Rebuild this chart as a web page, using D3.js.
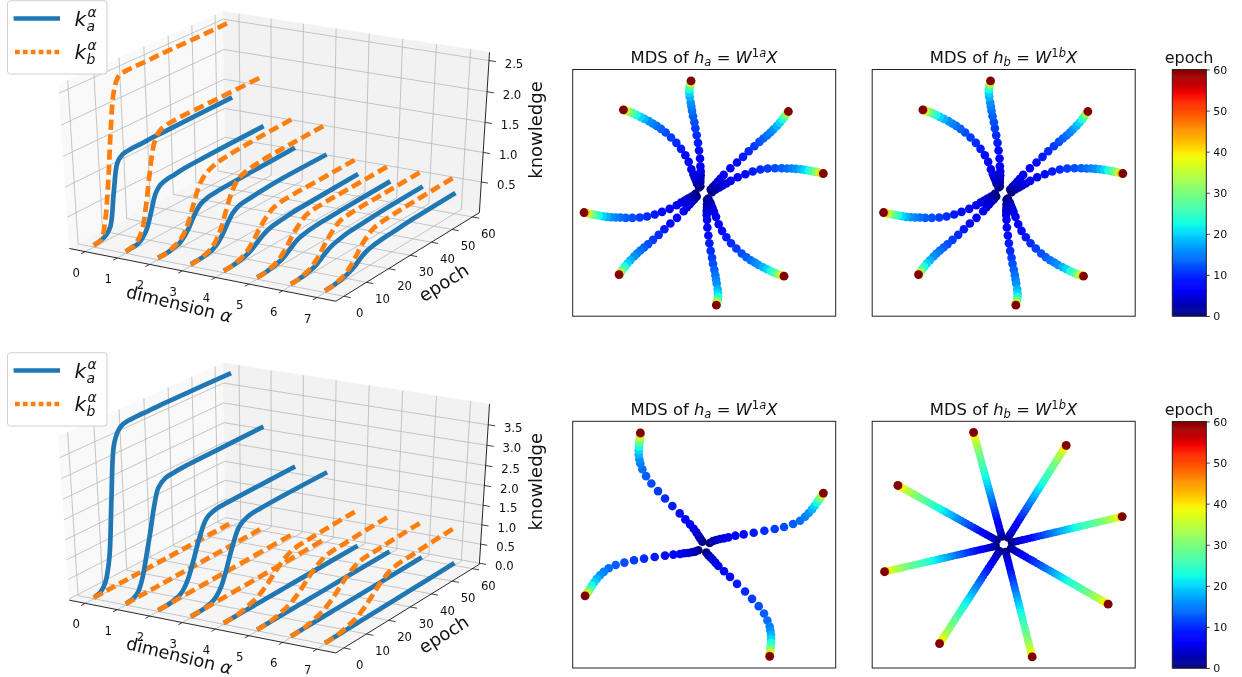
<!DOCTYPE html>
<html><head><meta charset="utf-8">
<script src="https://cdnjs.cloudflare.com/ajax/libs/d3/7.8.5/d3.min.js"></script>
<style>html,body{margin:0;padding:0;background:#fff}svg{display:block;filter:blur(0.35px)}text{font-family:"DejaVu Sans";fill:#111}</style>
</head><body><svg id="c" width="1242" height="677"></svg>
<script>
// ---------- knowledge curves (value at each sampled epoch, one row per dimension) ----------
const epochSamples=[0,3,5,7,9,11,13,15,18,21,25,30,40,60];
const dimensions=[0,1,2,3,4,5,6,7];
const topKa=[
[0,.02,.06,.17,.7,1.15,1.24,1.26,1.27,1.27,1.28,1.28,1.29,1.3],
[0,.01,.02,.08,.2,.45,.7,.8,.84,.85,.87,.88,.89,.9],
[0,0,.01,.03,.05,.12,.22,.36,.51,.56,.58,.59,.6,.62],
[0,0,.01,.02,.04,.09,.18,.3,.47,.54,.56,.58,.6,.6],
[0,0,.01,.02,.04,.07,.12,.18,.25,.29,.31,.33,.34,.36],
[0,0,.01,.02,.04,.07,.12,.18,.25,.28,.3,.31,.32,.33],
[0,0,.01,.02,.04,.07,.12,.18,.24,.27,.3,.31,.33,.34],
[0,0,.01,.02,.04,.07,.11,.17,.24,.27,.29,.3,.32,.33]];
const topKb=[
[0,.03,.3,.9,1.7,2.3,2.5,2.53,2.54,2.54,2.54,2.55,2.55,2.56],
[0,.02,.08,.22,.6,1.1,1.5,1.66,1.72,1.73,1.74,1.74,1.74,1.75],
[0,0,.02,.05,.09,.18,.33,.55,.85,.98,1.05,1.08,1.11,1.14],
[0,0,.02,.04,.09,.18,.33,.55,.85,1.0,1.05,1.08,1.1,1.12],
[0,0,.02,.04,.08,.15,.24,.35,.49,.58,.62,.63,.63,.64],
[0,0,.02,.04,.08,.15,.24,.35,.48,.57,.6,.61,.61,.62],
[0,0,.02,.04,.08,.15,.24,.35,.48,.57,.6,.61,.61,.62],
[0,0,.02,.04,.08,.15,.24,.35,.48,.56,.59,.6,.61,.62]];
const botKa=[
[0,.06,.25,.8,2.2,3.45,3.75,3.85,3.88,3.89,3.89,3.9,3.9,3.9],
[0,.03,.12,.4,.9,1.45,2.05,2.45,2.6,2.63,2.65,2.66,2.67,2.69],
[0,0,.01,.04,.08,.2,.42,.75,1.28,1.65,1.76,1.78,1.79,1.81],
[0,0,.01,.03,.07,.16,.34,.65,1.2,1.6,1.74,1.77,1.79,1.8],
[0,.002,.003,.004,.005,.006,.007,.008,.01,.011,.013,.016,.021,.03],
[0,.002,.003,.004,.005,.006,.007,.008,.01,.011,.013,.016,.021,.03],
[0,.002,.003,.004,.005,.006,.007,.008,.01,.011,.013,.016,.021,.03],
[0,.002,.003,.004,.005,.006,.007,.008,.01,.011,.013,.016,.021,.03]];
const botKb=[
[0,.003,.006,.008,.011,.013,.015,.018,.021,.025,.029,.035,.047,.07],
[0,.003,.006,.008,.011,.013,.015,.018,.021,.025,.029,.035,.047,.07],
[0,.003,.006,.008,.011,.013,.015,.018,.021,.025,.029,.035,.047,.07],
[0,.003,.006,.008,.011,.013,.015,.018,.021,.025,.029,.035,.047,.07],
[0,0,.01,.03,.06,.1,.14,.2,.33,.5,.72,.88,.93,.98],
[0,0,.01,.03,.06,.1,.14,.2,.33,.5,.72,.88,.93,.98],
[0,0,.01,.03,.06,.1,.14,.2,.33,.5,.72,.88,.93,.98],
[0,0,.01,.03,.06,.1,.14,.2,.33,.5,.72,.88,.93,.98]];
const xTicks=[0,1,2,3,4,5,6,7];
const yTicks=[0,10,20,30,40,50,60];
const zTicksTop=[0.5,1.0,1.5,2.0,2.5];
const zTicksBot=[0.0,0.5,1.0,1.5,2.0,2.5,3.0,3.5];

// ---------- MDS trajectories: [x, y] at each sampled epoch ----------
const mdsEpochs=[0,2,3,4,5,6,7,8,9,10,11,12,13,14,15,16,18,20,23,26,30,35,42,60];
const topArmN=[[406,438],[406,425],[406,415],[407,405],[407,393],[406,378],[405,355],[402,331],[399,308],[395,285],[391,264],[388,246],[384,228],[381,212],[379,199],[377,187],[374,170],[373,158],[373,147],[374,139],[376,133],[378,128],[378,124],[378,122]];
const topArmNW=[[402,442],[396,430],[393,421],[389,412],[385,402],[379,387],[371,365],[361,345],[348,326],[334,308],[318,292],[302,277],[288,266],[275,257],[263,250],[252,243],[238,236],[226,230],[214,224],[203,219],[193,215],[184,212],[178,210],[175,209]];
const topArmNE=[[437,448],[444,440],[451,433],[458,425],[466,416],[476,404],[496,384],[516,367],[534,350],[551,333],[568,318],[583,305],[595,295],[606,286],[616,277],[625,268],[636,257],[645,247],[653,237],[659,229],[664,222],[667,218],[669,215],[670,214]];
const topArmE=[[441,456],[452,448],[463,442],[473,436],[484,430],[497,422],[518,411],[541,402],[563,394],[586,388],[608,385],[630,384],[650,384],[666,385],[680,385],[693,386],[707,387],[719,389],[731,391],[742,393],[752,395],[762,397],[770,399],[775,400]];
const topMirrorCentre=[416,458.5];
const botArmNW=[[412,440],[406,431],[401,423],[394,412],[386,401],[375,388],[361,373],[344,355],[322,333],[300,310],[279,288],[259,265],[243,243],[232,222],[226,205],[223,192],[221,178],[221,166],[222,154],[223,143],[224,133],[225,124],[226,117],[226,113]];
const botArmE=[[434,444],[444,438],[454,435],[465,432],[477,430],[490,427],[511,422],[536,418],[566,413],[598,407],[629,402],[657,396],[684,387],[705,377],[720,365],[731,354],[741,343],[749,332],[756,322],[762,313],[767,306],[771,300],[774,296],[775,294]];
const botArmSE=[[424,473],[430,481],[436,487],[443,494],[451,503],[460,513],[477,529],[495,546],[516,567],[540,590],[561,612],[581,634],[597,656],[607,677],[614,695],[616,708],[618,720],[618,732],[618,744],[617,755],[616,765],[615,774],[614,781],[614,785]];
const botArmW=[[400,466],[390,470],[380,472],[369,474],[357,475],[345,477],[325,479],[300,482],[269,486],[237,491],[207,496],[178,503],[152,510],[131,520],[116,531],[105,541],[95,552],[87,563],[80,573],[74,583],[69,591],[65,597],[62,601],[60,603]];
// straight arms of the last panel: tips, and distance travelled along the arm per epoch
const rayCentre=[418,463];
const rayTips=[[327,128],[605,167],[773,380],[731,642],[503,800],[225,760],[60,545],[100,287]];
const rayEpochs=[0,1,2,3,4,5,6,7,8,9,10,11,12,13,14,15,16,17,18,19,20,21,22,23,24,25,26,27,28,29,30,31,32,33,34,35,36,37,38,39,40,41,42,43,44,60];
const rayTravel=[.065,.08,.095,.115,.135,.16,.185,.21,.24,.265,.29,.32,.35,.375,.4,.43,.455,.48,.505,.53,.555,.58,.605,.63,.66,.69,.72,.75,.78,.81,.84,.86,.88,.9,.92,.94,.955,.965,.975,.98,.985,.99,.992,.995,.997,1];
const cbTicks=[0,10,20,30,40,50,60];

// ---------- helpers ----------
const svg=d3.select("#c");
const blue="#1f77b4",orange="#ff7f0e",darkRed="#7f0000";
const jetR=d3.scaleLinear().domain([0,.35,.66,.89,1]).range([0,0,1,1,.5]);
const jetG=d3.scaleLinear().domain([0,.125,.375,.64,.91,1]).range([0,0,1,1,0,0]);
const jetB=d3.scaleLinear().domain([0,.11,.34,.65,1]).range([.5,1,1,0,0]);
const jet=t=>`rgb(${Math.round(jetR(t)*255)},${Math.round(jetG(t)*255)},${Math.round(jetB(t)*255)})`;
const epochColor=d3.scaleLinear().domain([0,60]).range([0,1]);

// matplotlib-style view: elev 30, azim -60, eye distance 10
const el=30*Math.PI/180,az=-60*Math.PI/180,dist=10;
const w=[Math.cos(el)*Math.cos(az),Math.cos(el)*Math.sin(az),Math.sin(el)];
const u=[-Math.sin(az),Math.cos(az),0];
const v=[-Math.sin(el)*Math.cos(az),-Math.sin(el)*Math.sin(az),Math.cos(el)];
const dot3=(a,b)=>a[0]*b[0]+a[1]*b[1]+a[2]*b[2];

function plot3d(o){
  const g=svg.append("g");
  const sx=d3.scaleLinear().domain(o.xlim).range([-.5,.5]);
  const sy=d3.scaleLinear().domain(o.ylim).range([-.5,.5]);
  const sz=d3.scaleLinear().domain(o.zlim).range([-.5,.5]);
  const outX=d3.scaleLinear().domain([-1,1]).range([277.5-307.6,277.5+307.6]);
  const outY=d3.scaleLinear().domain([-1,1]).range([o.y0+187,o.y0-187]);
  const P=(x,y,z)=>{const p=[sx(x),sy(y),sz(z)],f=dist/(dist-dot3(w,p));return [outX(dot3(u,p)*f),outY(dot3(v,p)*f)];};
  const [x0,x1]=o.xlim,[y0,y1]=o.ylim,[z0,z1]=o.zlim;
  const poly=(pts,fill)=>g.append("polygon").attr("points",pts.map(p=>p.join(",")).join(" ")).attr("fill",fill).attr("stroke",fill).attr("stroke-width",.5);
  poly([P(x0,y0,z0),P(x0,y1,z0),P(x0,y1,z1),P(x0,y0,z1)],"#f9f9f9");
  poly([P(x0,y1,z0),P(x1,y1,z0),P(x1,y1,z1),P(x0,y1,z1)],"#f2f2f2");
  poly([P(x0,y0,z0),P(x1,y0,z0),P(x1,y1,z0),P(x0,y1,z0)],"#f5f5f5");
  const seg=(a,b,col,wd)=>g.append("line").attr("x1",a[0]).attr("y1",a[1]).attr("x2",b[0]).attr("y2",b[1]).attr("stroke",col).attr("stroke-width",wd);
  const grid="#b8b8b8";
  xTicks.forEach(t=>{seg(P(t,y0,z0),P(t,y1,z0),grid,.8);seg(P(t,y1,z0),P(t,y1,z1),grid,.8);});
  yTicks.forEach(t=>{seg(P(x1,t,z0),P(x0,t,z0),grid,.8);seg(P(x0,t,z0),P(x0,t,z1),grid,.8);});
  o.zTicks.forEach(t=>{seg(P(x0,y0,t),P(x0,y1,t),grid,.8);seg(P(x0,y1,t),P(x1,y1,t),grid,.8);});
  seg(P(x0,y0,z0),P(x1,y0,z0),"#111",.9);
  seg(P(x1,y0,z0),P(x1,y1,z0),"#111",.9);
  seg(P(x1,y1,z0),P(x1,y1,z1),"#111",.9);
  const lab=(p,dx,dy,txt)=>g.append("text").attr("x",p[0]+dx).attr("y",p[1]+dy).attr("text-anchor","middle").attr("font-size",11.7).text(txt);
  xTicks.forEach(t=>{const a=P(t,y0,z0);seg(a,P(t,y0-(y1-y0)*.025,z0),"#111",.8);lab(a,-9,25,t);});
  yTicks.forEach(t=>{const a=P(x1,t,z0);seg(a,P(x1+(x1-x0)*.025,t,z0),"#111",.8);lab(a,16,21,t);});
  o.zTicks.forEach(t=>{const a=P(x1,y1,t);seg(a,P(x1+(x1-x0)*.025,y1,t),"#111",.8);lab(a,25,7,t.toFixed(1));});
  // curves
  const line=d3.line().curve(d3.curveCatmullRom.alpha(.5));
  dimensions.forEach(d=>{
    const path=(vals,col)=>g.append("path").attr("d",line(epochSamples.map((e,i)=>P(d,e,vals[i])))).attr("fill","none").attr("stroke",col).attr("stroke-width",4.7);
    path(o.ka[d],blue);
    const pb=path(o.kb[d],orange);
    // dashes fitted so the curve finishes on a gap, as the reference does
    const L=pb.node().getTotalLength(),per=L/Math.round(L/15);
    pb.attr("stroke-dasharray",`${per*.68},${per*.32}`);
  });
  const off=o.y0-151.3;
  const rotText=(x,y,r,size)=>g.append("text").attr("transform",`translate(${x},${y+off}) rotate(${r})`).attr("text-anchor","middle").attr("font-size",size);
  const t1=rotText(178,310,13.7,17.6);t1.append("tspan").text("dimension ");t1.append("tspan").attr("font-style","italic").text("α");
  rotText(447,288,-32,18).text("epoch");
  rotText(542,130,-90,18).text("knowledge");
  // legend
  const L=svg.append("g").attr("transform",`translate(0,${o.legY})`);
  L.append("rect").attr("x",7.5).attr("y",0.7).attr("width",99.5).attr("height",73.3).attr("rx",3).attr("fill","#fff").attr("fill-opacity",.9).attr("stroke","#d0d0d0").attr("stroke-width",1);
  L.append("line").attr("x1",13.6).attr("x2",60).attr("y1",18.5).attr("y2",18.5).attr("stroke",blue).attr("stroke-width",4.7);
  L.append("line").attr("x1",15).attr("x2",60).attr("y1",52).attr("y2",52).attr("stroke",orange).attr("stroke-width",4.7).attr("stroke-dasharray","4.7,3.2");
  [["a",26],["b",59.3]].forEach(([s,by])=>{
    L.append("text").attr("x",74.5).attr("y",by).attr("font-size",20).attr("font-style","italic").text("k");
    L.append("text").attr("x",87.5).attr("y",by-9).attr("font-size",14).attr("font-style","italic").text("α");
    L.append("text").attr("x",86.5).attr("y",by+5).attr("font-size",14).attr("font-style","italic").text(s);
  });
}
const xlim=[-.5,7.55],ylim=[-3.5,63.5];
plot3d({y0:151.3,legY:0,xlim,ylim,zlim:[-.03,2.63],zTicks:zTicksTop,ka:topKa,kb:topKb});
plot3d({y0:151.3+351.67,legY:352,xlim,ylim,zlim:[-.03,4.0],zTicks:zTicksBot,ka:botKa,kb:botKb});

// ---------- MDS panels ----------
function title(x,y,parts){
  const t=svg.append("text").attr("x",x).attr("y",y).attr("text-anchor","middle").attr("font-size",16.4);
  parts.forEach(([s,st,dy,fs])=>{const sp=t.append("tspan").text(s);if(st)sp.attr("font-style","italic");if(dy)sp.attr("dy",dy);if(fs)sp.attr("font-size",fs);});
}
function mdsTitle(x,y,l){
  title(x,y,[["MDS of "],["h",1],[l,1,3,11.5],[" = ",0,-3],["W",1],["1",0,-6,11.5],[l,1,0,11.5],["X",1,6]]);
}
function panel(o){
  const g=svg.append("g");
  const X=d3.scaleLinear().domain([23,812]).range([o.x,o.x+263]);
  const Y=d3.scaleLinear().domain(o.yd).range([o.y,o.y+246.7]);
  const pts=[];
  o.arms.forEach(a=>a.pts.forEach((p,i)=>pts.push({p,e:a.ep[i]})));
  pts.sort((a,b)=>a.e-b.e);
  g.selectAll("circle").data(pts).enter().append("circle")
    .attr("cx",d=>X(d.p[0])).attr("cy",d=>Y(d.p[1])).attr("r",d=>d.e===60?4.4:o.r)
    .attr("fill",d=>d.e===60?darkRed:jet(epochColor(d.e)));
  g.append("rect").attr("x",o.x).attr("y",o.y).attr("width",263).attr("height",246.7).attr("fill","none").attr("stroke","#222").attr("stroke-width",1);
}
const mirror=(arm,c)=>arm.map(p=>[2*c[0]-p[0],2*c[1]-p[1]]);
const topArms=[topArmN,topArmNW,topArmNE,topArmE];
const topAll=topArms.concat(topArms.map(a=>mirror(a,topMirrorCentre))).map(pts=>({pts,ep:mdsEpochs}));
panel({x:572.7,y:69.5,yd:[88,828],arms:topAll,r:4.3});
panel({x:872.2,y:69.5,yd:[88,828],arms:topAll,r:4.3});
panel({x:572.7,y:421.3,yd:[78,820],arms:[botArmNW,botArmE,botArmSE,botArmW].map(pts=>({pts,ep:mdsEpochs})),r:4.3});
const rays=rayTips.map(tip=>({ep:rayEpochs,pts:rayTravel.map(f=>[rayCentre[0]+(tip[0]-rayCentre[0])*f,rayCentre[1]+(tip[1]-rayCentre[1])*f])}));
panel({x:872.2,y:421.3,yd:[95,833],arms:rays,r:3.8});
mdsTitle(704,63,"a");mdsTitle(1003.5,63,"b");mdsTitle(704,415,"a");mdsTitle(1003.5,415,"b");

// ---------- colourbars ----------
function colorbar(y){
  const g=svg.append("g");
  const s=d3.scaleLinear().domain([0,60]).range([y+246.5,y]);
  g.selectAll("rect").data(d3.range(0,60,60/256)).enter().append("rect")
    .attr("x",1172.3).attr("width",34).attr("y",d=>s(d+60/256)).attr("height",246.5/256+.6).attr("fill",d=>jet(epochColor(d)));
  g.append("rect").attr("x",1172.3).attr("y",y).attr("width",34).attr("height",246.5).attr("fill","none").attr("stroke","#222").attr("stroke-width",1);
  const ax=g.append("g").attr("transform","translate(1206.3,0)").call(d3.axisRight(s).tickValues(cbTicks).tickSize(3.5).tickPadding(3.5).tickFormat(d3.format("d")));
  ax.select(".domain").remove();
  ax.selectAll("text").attr("font-size",11).attr("font-family","DejaVu Sans");
  ax.selectAll("line").attr("stroke","#111").attr("stroke-width",.8);
  svg.append("text").attr("x",1189).attr("y",y-6.5).attr("text-anchor","middle").attr("font-size",16).text("epoch");
}
colorbar(69.5);colorbar(421.5);
</script></body></html>
